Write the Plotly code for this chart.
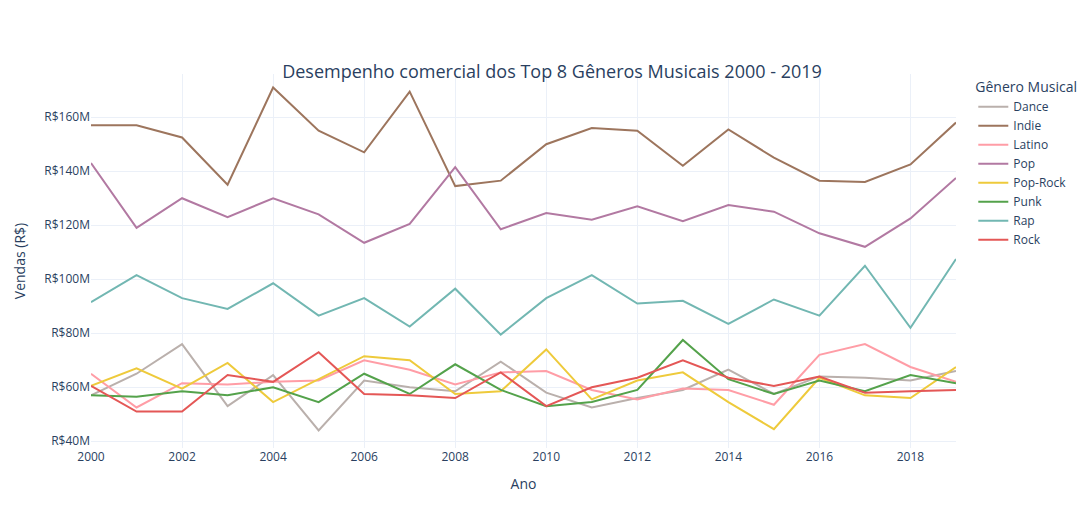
import plotly.graph_objects as go

anos = list(range(2000, 2020))
dance = [57,65,76,53,64.5,44,62.5,60,58.5,69.5,58,52.5,56,59,66.5,57.5,64,63.5,62.5,66]
indie = [157,157,152.5,135,171,155,147,169.5,134.5,136.5,150,156,155,142,155.5,145,136.5,136,142.5,158]
latino = [65,52.5,61.5,61,62,62.5,70,66.5,61,65.5,66,59,55.5,59.5,59,53.5,72,76,67.5,62]
pop = [143,119,130,123,130,124,113.5,120.5,141.5,118.5,124.5,122,127,121.5,127.5,125,117,112,122.5,137.5]
pop_rock = [60.5,67,59.5,69,54.5,63,71.5,70,57.5,58.5,74,55.5,62.5,65.5,54.5,44.5,63.5,57,56,67.5]
punk = [57,56.5,58.5,57,60,54.5,65,57.5,68.5,59,53,54.5,59,77.5,63,57.5,62.5,58.5,64.5,61.5]
rap = [91.5,101.5,93,89,98.5,86.5,93,82.5,96.5,79.5,93,101.5,91,92,83.5,92.5,86.5,105,82,107.5]
rock = [60.5,51,51,64.5,62,73,57.5,57,56,65.5,53,60,63.5,70,63.5,60.5,64,58,58.5,59]

series = [("Dance", dance, "#BAB0AC"), ("Indie", indie, "#9D755D"), ("Latino", latino, "#FF9DA6"),
          ("Pop", pop, "#B279A2"), ("Pop-Rock", pop_rock, "#EECA3B"), ("Punk", punk, "#54A24B"),
          ("Rap", rap, "#72B7B2"), ("Rock", rock, "#E45756")]

fig = go.Figure()
for nome, vals, cor in series:
    fig.add_trace(go.Scatter(x=anos, y=[v * 1e6 for v in vals], mode="lines", name=nome,
                             line=dict(color=cor, width=2)))

fig.update_layout(
    template="plotly_white", width=1088, height=525,
    title=dict(text="Desempenho comercial dos Top 8 Gêneros Musicais 2000 - 2019", x=0.5, y=0.89, font=dict(size=18)),
    legend=dict(title=dict(text="Gênero Musical"), y=1.0, yanchor="top"),
    xaxis=dict(title="Ano", range=[2000, 2019], dtick=2),
    yaxis=dict(title="Vendas (R$)", tickprefix="R$", range=[37.5e6, 176e6], dtick=20e6),
    margin=dict(l=72, r=140, t=66, b=85),
)
fig.write_html("out.html")
